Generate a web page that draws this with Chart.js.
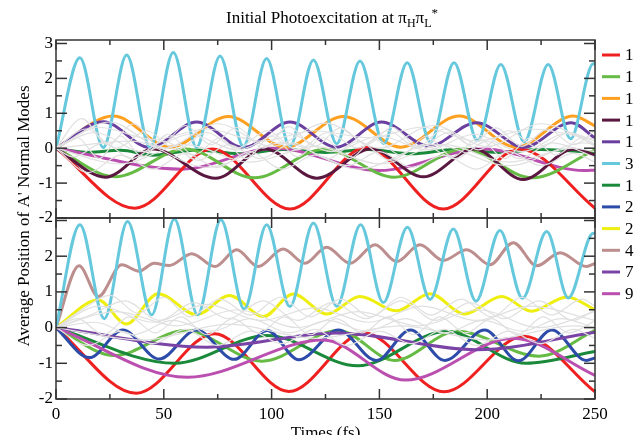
<!DOCTYPE html>
<html>
<head>
<meta charset="utf-8">
<script src="https://cdn.jsdelivr.net/npm/chart.js@4.4.1/dist/chart.umd.min.js"></script>
<style>
  html, body { margin: 0; padding: 0; background: #fff; overflow: hidden; }
  #wrap { width: 634px; height: 435px; overflow: hidden; }
</style>
</head>
<body>
<div id="wrap"><canvas id="modes" width="680" height="435"></canvas></div>
<script>
// x ticks (fs) and y ticks (position)
const timeTicks = [0, 50, 100, 150, 200, 250];
const posTicks = [-2, -1, 0, 1, 2, 3];

const legendLabels = ['12', '13', '13', '16', '19', '39', '10', '22', '23', '42', '7', '9'];
const legendColors = ['#ee2020', '#66bb44', '#ffa020', '#5a1840', '#6a3fa0', '#66c8dc',
  '#1a8a3a', '#2d4ba8', '#eeee10', '#bc8e8e', '#7a44a6', '#bb4fb0'];

// upper panel, [time fs, position]
const topRed = [[0, 0], [36.6, -1.72], [72.5, -0.02], [108.5, -1.74], [144, 0.03], [179.6, -1.74], [215, -0.02], [250, -1.72]];
const topGreen = [[0, 0], [27.5, -0.82], [60, -0.02], [92, -0.85], [124.5, -0.03], [157, -0.83], [189, -0.02], [221, -0.85], [250, -0.05]];
const topOrange = [[0, 0], [26.6, 0.92], [53, 0.03], [80, 0.91], [106.5, 0.03], [133.3, 0.91], [160, 0.03], [187, 0.92], [213.5, 0.03], [240, 0.92], [250, 0.64]];
const topMaroon = [[0, 0], [23, -0.83], [45, -0.02], [74, -0.86], [97, -0.02], [121, -0.86], [146, -0.02], [170.4, -0.82], [194, -0.02], [216.7, -0.9], [240, -0.03], [250, -0.2]];
const topPurple = [[0, 0], [21.9, 0.76], [43.5, 0.02], [65.2, 0.75], [87, 0.02], [108.5, 0.75], [130, 0.03], [151, 0.75], [173, 0.06], [195, 0.73], [217, 0.03], [239, 0.73], [250, 0.29]];
const topCyan = [[0, 0], [11.1, 2.59], [21.9, 0.02], [32.8, 2.67], [43.6, 0.02], [54.4, 2.74], [65.2, 0.03], [76.1, 2.64], [86.9, 0.05], [97.7, 2.57], [108.5, 0.05], [119.4, 2.53], [130.2, 0.13], [141, 2.5], [152, 0.13], [162.9, 2.45], [173.7, 0.17], [184.6, 2.45], [195.5, 0.22], [206.3, 2.4], [217.2, 0.18], [228.3, 2.4], [238.7, 0.27], [249.2, 2.42], [250, 2.42]];
const topMagenta = [[0, 0], [58.3, -0.6], [101.6, 0.0], [150, -0.64], [198.2, -0.02], [245, -0.64], [250, -0.63]];
const topDarkGreen = [[0, 0], [15, -0.12], [30, -0.06], [45, -0.2], [65, -0.05], [85, -0.16], [105, -0.04], [125, -0.12], [145, -0.04], [165, -0.16], [185, -0.04], [205, -0.12], [225, -0.04], [250, -0.12]];

// lower panel
const botRed = [[0, 0], [37.3, -1.84], [73.5, -0.17], [108, -1.79], [143, -0.15], [180, -1.8], [217, -0.24], [250, -1.8]];
const botGreen = [[0, 0], [27, -0.78], [60, -0.08], [95.5, -0.94], [131, -0.08], [157, -0.92], [186, -0.1], [224, -0.8], [250, -0.08]];
const botCyan = [[0, 0], [11.1, 2.88], [22.4, 0.25], [33.2, 2.97], [44.4, 0.36], [54.9, 3.04], [65.7, 0.36], [76.5, 3.02], [87.3, 0.52], [97.7, 2.88], [108.5, 0.59], [119.4, 2.93], [130.2, 0.6], [141.3, 2.88], [151.8, 0.7], [163, 2.81], [173.5, 0.79], [184.3, 2.76], [194.8, 0.74], [205.9, 2.72], [216.4, 0.82], [227.6, 2.69], [237.6, 0.83], [249.2, 2.64], [250, 2.63]];
const botDarkGreen = [[0, 0], [55, -1.0], [98, -0.22], [140, -1.07], [181, -0.11], [218, -1.0], [250, -0.67]];
const botBlue = [[0, 0], [15.5, -0.84], [31, -0.07], [47.8, -0.88], [65.2, -0.07], [82.7, -0.89], [98, -0.08], [112.6, -0.9], [131, -0.07], [148.5, -0.92], [164.4, -0.07], [180.4, -0.92], [198.8, -0.07], [214.5, -0.93], [230, -0.07], [246, -0.92], [250, -0.85]];
const botYellow = [[0, 0], [19.6, 0.77], [32.6, 0.1], [47.4, 0.95], [65.2, 0.36], [80.5, 0.9], [96.2, 0.31], [110, 0.94], [125.8, 0.38], [141, 0.87], [158, 0.47], [173.4, 0.95], [189.5, 0.38], [206.8, 0.87], [220.5, 0.46], [237, 0.86], [250, 0.5]];
const botBrown = [[0, 0], [10.7, 1.73], [19.6, 0.87], [30.5, 1.76], [38.5, 1.58], [45.5, 1.8], [52.5, 1.74], [63, 2.07], [73.7, 1.71], [83.8, 2.18], [93.8, 1.71], [105.4, 2.2], [115.5, 1.8], [125.5, 2.25], [136.4, 1.8], [148, 2.32], [158, 1.85], [168.8, 2.32], [179.6, 1.88], [190.5, 2.18], [201.3, 1.76], [212.1, 2.38], [223, 1.73], [233.8, 2.1], [246, 1.71], [250, 1.8]];
const botPurple = [[0, 0], [70, -0.55], [130, -0.15], [195, -0.62], [250, -0.13]];
const botMagenta = [[0, 0], [61, -1.39], [124, -0.35], [162, -1.47], [212, -0.3], [250, -1.34]];

// faint grey modes in the background
const topGrey = [
  [[0, 0], [12, 0.85], [24, 0.1], [36, 0.7], [48, 0.05], [60, 0.65], [72, 0.1], [84, 0.6], [96, 0.0], [108, 0.62], [120, 0.05], [132, 0.58], [144, 0.1], [156, 0.6], [168, 0.05], [180, 0.55], [192, 0.1], [204, 0.58], [216, 0.05], [228, 0.55], [240, 0.1], [250, 0.5]],
  [[0, 0], [20, 0.6], [45, 0.25], [70, 0.55], [95, 0.2], [120, 0.5], [145, 0.3], [170, 0.6], [195, 0.2], [220, 0.55], [250, 0.25]],
  [[0, 0], [15, -0.7], [30, -0.2], [45, -0.6], [60, -0.15], [75, -0.55], [90, -0.1], [105, -0.6], [120, -0.2], [135, -0.5], [150, -0.1], [165, -0.55], [180, -0.2], [195, -0.6], [210, -0.1], [225, -0.5], [240, -0.15], [250, -0.4]],
  [[0, 0], [10, 0.3], [20, -0.3], [30, 0.35], [40, -0.25], [52, 0.4], [64, -0.2], [76, 0.3], [88, -0.3], [100, 0.35], [112, -0.25], [124, 0.3], [136, -0.3], [148, 0.25], [160, -0.2], [172, 0.35], [184, -0.25], [196, 0.3], [208, -0.3], [220, 0.3], [232, -0.2], [244, 0.3], [250, 0.1]],
  [[0, 0], [30, -0.45], [60, 0.1], [90, -0.4], [120, 0.05], [150, -0.45], [180, 0.1], [210, -0.4], [240, 0.0], [250, -0.1]],
  [[0, 0], [18, 0.45], [40, -0.1], [62, 0.4], [84, -0.05], [106, 0.45], [128, -0.1], [150, 0.35], [172, -0.05], [194, 0.4], [216, -0.1], [238, 0.45], [250, 0.2]],
  [[0, 0], [25, 0.75], [50, 0.0], [75, 0.7], [100, 0.05], [125, 0.72], [150, 0.0], [175, 0.65], [200, 0.05], [225, 0.7], [250, 0.1]],
  [[0, 0], [8, -0.25], [22, 0.15], [35, -0.3], [50, 0.2], [66, -0.35], [80, 0.1], [95, -0.3], [110, 0.15], [126, -0.3], [140, 0.2], [155, -0.35], [170, 0.1], [185, -0.3], [200, 0.2], [215, -0.3], [230, 0.15], [250, -0.25]],
  [[0, 0], [35, 0.2], [70, -0.55], [105, 0.15], [140, -0.6], [175, 0.1], [210, -0.5], [245, 0.15], [250, 0.1]],
  [[0, 0], [14, 0.55], [28, 0.0], [42, 0.5], [56, -0.05], [70, 0.45], [84, 0.0], [98, 0.5], [112, -0.05], [126, 0.45], [140, 0.0], [154, 0.5], [168, 0.0], [182, 0.45], [196, -0.05], [210, 0.5], [224, 0.0], [238, 0.45], [250, 0.05]]
];
const botGrey = [
  [[0, 0], [12, 0.5], [25, 0.9], [38, 0.4], [50, 0.85], [62, 0.3], [76, 0.8], [90, 0.35], [104, 0.85], [118, 0.3], [132, 0.8], [146, 0.3], [160, 0.85], [174, 0.35], [188, 0.8], [202, 0.3], [216, 0.85], [230, 0.35], [244, 0.8], [250, 0.6]],
  [[0, 0], [20, 0.6], [45, 0.15], [70, 0.65], [95, 0.2], [120, 0.55], [145, 0.15], [170, 0.6], [195, 0.2], [220, 0.6], [250, 0.2]],
  [[0, 0], [15, -0.5], [30, -0.1], [45, -0.45], [60, -0.05], [75, -0.5], [90, -0.1], [105, -0.45], [120, -0.05], [135, -0.5], [150, -0.1], [165, -0.45], [180, -0.05], [195, -0.5], [210, -0.1], [225, -0.45], [240, -0.05], [250, -0.3]],
  [[0, 0], [10, 0.25], [22, -0.2], [34, 0.3], [46, -0.15], [58, 0.3], [70, -0.2], [82, 0.25], [94, -0.15], [106, 0.3], [118, -0.2], [130, 0.25], [142, -0.15], [154, 0.3], [166, -0.2], [178, 0.3], [190, -0.15], [202, 0.25], [214, -0.2], [226, 0.3], [238, -0.15], [250, 0.2]],
  [[0, 0], [28, 0.45], [56, 0.05], [84, 0.5], [112, 0.0], [140, 0.45], [168, 0.05], [196, 0.5], [224, 0.0], [250, 0.45]],
  [[0, 0], [16, 0.35], [32, 0.75], [48, 0.2], [64, 0.7], [80, 0.25], [96, 0.75], [112, 0.2], [128, 0.7], [144, 0.25], [160, 0.75], [176, 0.2], [192, 0.7], [208, 0.25], [224, 0.75], [240, 0.2], [250, 0.5]],
  [[0, 0], [40, -0.35], [80, 0.1], [120, -0.3], [160, 0.05], [200, -0.35], [240, 0.05], [250, 0.0]],
  [[0, 0], [18, 0.15], [36, -0.2], [54, 0.2], [72, -0.1], [90, 0.25], [108, -0.15], [126, 0.2], [144, -0.1], [162, 0.25], [180, -0.15], [198, 0.2], [216, -0.1], [234, 0.25], [250, 0.0]]
];

const serif = 'Liberation Serif';
const tickFont = { family: serif, size: 17 };

const series = (points, color, axis, width, order) => ({
  data: points.map(([x, y]) => ({ x, y })),
  borderColor: color,
  borderWidth: width,
  yAxisID: axis,
  pointRadius: 0,
  fill: false,
  cubicInterpolationMode: 'monotone',
  order,
});

const datasets = [];
topGrey.forEach((g) => datasets.push(series(g, '#e0e0e0', 'yTop', 1.2, 0)));
botGrey.forEach((g) => datasets.push(series(g, '#e0e0e0', 'yBot', 1.2, 0)));
const c = legendColors;
[
  [topMagenta, c[11], 9], [topDarkGreen, c[6], 10], [topRed, c[0], 8], [topGreen, c[1], 7],
  [topOrange, c[2], 6], [topMaroon, c[3], 5], [topPurple, c[4], 4], [topCyan, c[5], 1],
].forEach(([p, col, o]) => datasets.push(series(p, col, 'yTop', 3, o)));
[
  [botRed, c[0], 9], [botGreen, c[1], 8], [botCyan, c[5], 1], [botDarkGreen, c[6], 7],
  [botBlue, c[7], 6], [botYellow, c[8], 5], [botBrown, c[9], 2], [botPurple, c[10], 3], [botMagenta, c[11], 4],
].forEach(([p, col, o]) => datasets.push(series(p, col, 'yBot', 3, o)));

// inward ticks on all four sides of each panel
const framePlugin = {
  id: 'frame',
  afterDatasetsDraw(chart) {
    const { ctx, chartArea: a, scales } = chart;
    const x = scales.x;
    const seg = (x1, y1, x2, y2) => { ctx.beginPath(); ctx.moveTo(x1, y1); ctx.lineTo(x2, y2); ctx.stroke(); };
    ctx.save();
    ctx.strokeStyle = '#333';
    ctx.lineWidth = 1.5;
    [scales.yTop, scales.yBot].forEach((y) => {
      ctx.strokeRect(a.left, y.top, a.right - a.left, y.bottom - y.top);
      y.ticks.forEach((t) => {
        const p = y.getPixelForValue(t.value);
        seg(a.left, p, a.left + 11, p);
        seg(a.right, p, a.right - 11, p);
        if (t.value + 0.5 < y.max) {
          const q = y.getPixelForValue(t.value + 0.5);
          seg(a.left, q, a.left + 6, q);
          seg(a.right, q, a.right - 6, q);
        }
      });
      x.ticks.forEach((t) => {
        const p = x.getPixelForValue(t.value);
        seg(p, y.top, p, y.top + 10);
        seg(p, y.bottom, p, y.bottom - 10);
        if (t.value + 25 < x.max) {
          const q = x.getPixelForValue(t.value + 25);
          seg(q, y.top, q, y.top + 5);
          seg(q, y.bottom, q, y.bottom - 5);
        }
      });
    });
    ctx.restore();
  },
};

// title, axis titles and the legend down the right edge
const textPlugin = {
  id: 'texts',
  afterDraw(chart) {
    const { ctx, chartArea: a } = chart;
    ctx.save();
    ctx.fillStyle = '#000';
    ctx.textBaseline = 'alphabetic';

    const parts = [
      ['Initial Photoexcitation at \u03c0', 17, 0], ['H', 12, 4], ['\u03c0', 17, 0], ['L', 12, 4], ['*', 13, -6],
    ];
    let total = 0;
    parts.forEach(([s, size]) => { ctx.font = `${size}px ${serif}`; total += ctx.measureText(s).width; });
    let tx = 332 - total / 2;
    parts.forEach(([s, size, dy]) => {
      ctx.font = `${size}px ${serif}`;
      ctx.fillText(s, tx, 23 + dy);
      tx += ctx.measureText(s).width;
    });

    ctx.font = `17px ${serif}`;
    ctx.textAlign = 'center';
    ctx.fillText('Times (fs)', (a.left + a.right) / 2, 438);

    ctx.save();
    ctx.translate(29, 216);
    ctx.rotate(-Math.PI / 2);
    ctx.fillText('Average Position of A\' Normal Modes', 0, 0);
    ctx.restore();

    ctx.textAlign = 'left';
    ctx.textBaseline = 'middle';
    ctx.lineWidth = 3;
    legendLabels.forEach((lab, i) => {
      const ly = 55 + i * 21.7;
      ctx.strokeStyle = legendColors[i];
      ctx.beginPath();
      ctx.moveTo(602, ly);
      ctx.lineTo(620, ly);
      ctx.stroke();
      ctx.fillText(lab, 625, ly + 1);
    });
    ctx.restore();
  },
};

const yScale = (weight, max, hideTop) => ({
  type: 'linear',
  position: 'left',
  stack: 'panels',
  stackWeight: weight,
  min: -2,
  max,
  ticks: {
    stepSize: 1,
    autoSkip: false,
    includeBounds: false,
    padding: 3,
    color: '#000',
    font: tickFont,
    callback: (v) => (hideTop && v === posTicks[posTicks.length - 1] ? '' : String(v)),
  },
  grid: { drawOnChartArea: false, drawTicks: false },
  border: { display: false },
  afterFit: (s) => { s.width = 56; },
});

new Chart(document.getElementById('modes'), {
  type: 'line',
  data: { datasets },
  options: {
    responsive: false,
    animation: false,
    devicePixelRatio: 1,
    layout: { padding: { top: 40, right: 85, bottom: 0, left: 0 } },
    plugins: { legend: { display: false }, tooltip: { enabled: false }, title: { display: false } },
    scales: {
      x: {
        type: 'linear',
        min: timeTicks[0],
        max: timeTicks[timeTicks.length - 1],
        ticks: { stepSize: 50, autoSkip: false, includeBounds: false, padding: 5, maxRotation: 0, color: '#000', font: tickFont },
        grid: { drawOnChartArea: false, drawTicks: false },
        border: { display: false },
        afterFit: (s) => { s.height = 36; },
      },
      yBot: yScale(181, 3.07, true),
      yTop: yScale(178, 3.1, false),
    },
  },
  plugins: [framePlugin, textPlugin],
});
</script>
</body>
</html>
